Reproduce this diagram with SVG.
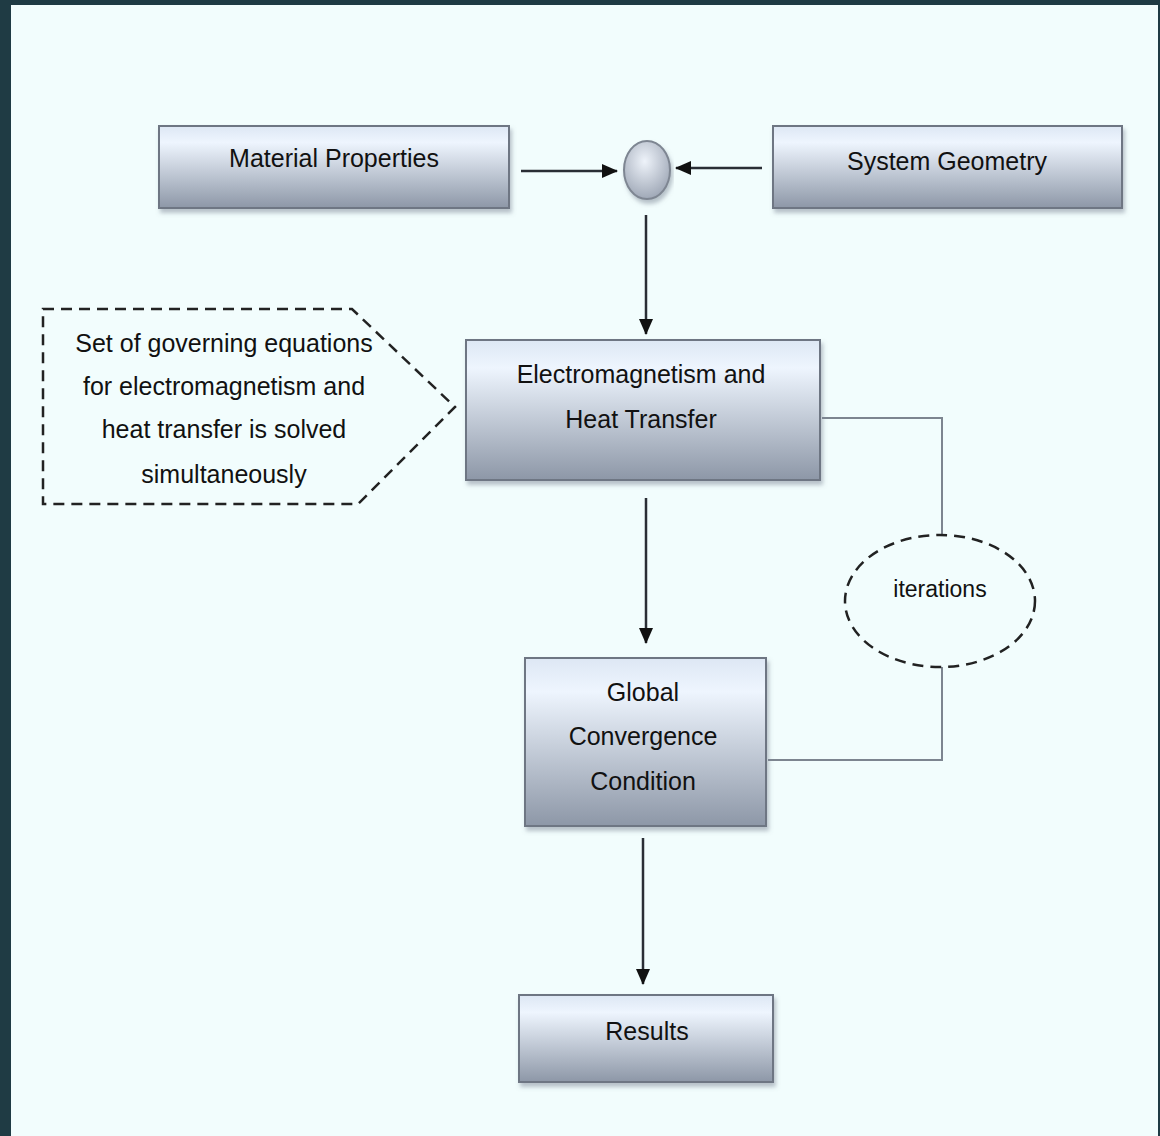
<svg xmlns="http://www.w3.org/2000/svg" width="1160" height="1136" viewBox="0 0 1160 1136">
<defs>
<linearGradient id="boxg" x1="0" y1="0" x2="0" y2="1">
<stop offset="0" stop-color="#DDE7F4"/>
<stop offset="0.2" stop-color="#EEF5FE"/>
<stop offset="1" stop-color="#8D97A7"/>
</linearGradient>
<radialGradient id="circg" cx="0.45" cy="0.35" r="0.7">
<stop offset="0" stop-color="#EEF3FA"/>
<stop offset="1" stop-color="#9AA3B2"/>
</radialGradient>
<marker id="arr" viewBox="0 0 16 14" refX="15" refY="7" markerWidth="16" markerHeight="14" markerUnits="userSpaceOnUse" orient="auto">
<path d="M0,0 L16,7 L0,14 Z" fill="#111"/>
</marker>
<filter id="sh" x="-5%" y="-5%" width="112%" height="120%">
<feDropShadow dx="2" dy="4" stdDeviation="2" flood-color="#7A8494" flood-opacity="0.5"/>
</filter>
</defs>
<style>
.box{fill:url(#boxg);stroke:#6E7683;stroke-width:2;filter:url(#sh)}
.t{font-family:"Liberation Sans","DejaVu Sans",sans-serif;font-size:25px;fill:#111;text-anchor:middle}
.dash{fill:none;stroke:#222;stroke-width:2.5;stroke-dasharray:11 7}
.c{fill:none;stroke:#2A2E35;stroke-width:2.5;marker-end:url(#arr)}
.loop{fill:none;stroke:#7D8590;stroke-width:2}
</style>
<rect x="0" y="0" width="1160" height="1136" fill="#1F3B44"/>
<rect x="11" y="5" width="1147" height="1131" fill="#F2FDFD"/>

<g id="connectors">
<path class="c" d="M521,171 H617"/>
<path class="c" d="M762,168 H676"/>
<path class="c" d="M646,215 V334"/>
<path class="c" d="M646,498 V643"/>
<path class="c" d="M643,838 V984"/>
<path class="loop" d="M822,418 H942 V535"/>
<path class="loop" d="M942,667 V760 H768"/>
</g>

<g id="material">
<rect class="box" x="159" y="126" width="350" height="82"/>
<text class="t" x="334" y="167">Material Properties</text>
</g>
<g id="geometry">
<rect class="box" x="773" y="126" width="349" height="82"/>
<text class="t" x="947" y="170">System Geometry</text>
</g>
<g id="junction">
<ellipse cx="647" cy="170" rx="23" ry="29" fill="url(#circg)" stroke="#7E8692" stroke-width="2" filter="url(#sh)"/>
</g>
<g id="note">
<path class="dash" d="M43,309 H352 L455,407 L358,504 H43 Z"/>
<text class="t" x="224" y="352">Set of governing equations</text>
<text class="t" x="224" y="395">for electromagnetism and</text>
<text class="t" x="224" y="438">heat transfer is solved</text>
<text class="t" x="224" y="483">simultaneously</text>
</g>
<g id="eht">
<rect class="box" x="466" y="340" width="354" height="140"/>
<text class="t" x="641" y="383">Electromagnetism and</text>
<text class="t" x="641" y="428">Heat Transfer</text>
</g>
<g id="iterations">
<ellipse class="dash" cx="940" cy="601" rx="95" ry="66" fill="#F2FDFD"/>
<text class="t" x="940" y="597" style="font-size:23px">iterations</text>
</g>
<g id="gcc">
<rect class="box" x="525" y="658" width="241" height="168"/>
<text class="t" x="643" y="701">Global</text>
<text class="t" x="643" y="745">Convergence</text>
<text class="t" x="643" y="790">Condition</text>
</g>
<g id="results">
<rect class="box" x="519" y="995" width="254" height="87"/>
<text class="t" x="647" y="1040">Results</text>
</g>
</svg>
